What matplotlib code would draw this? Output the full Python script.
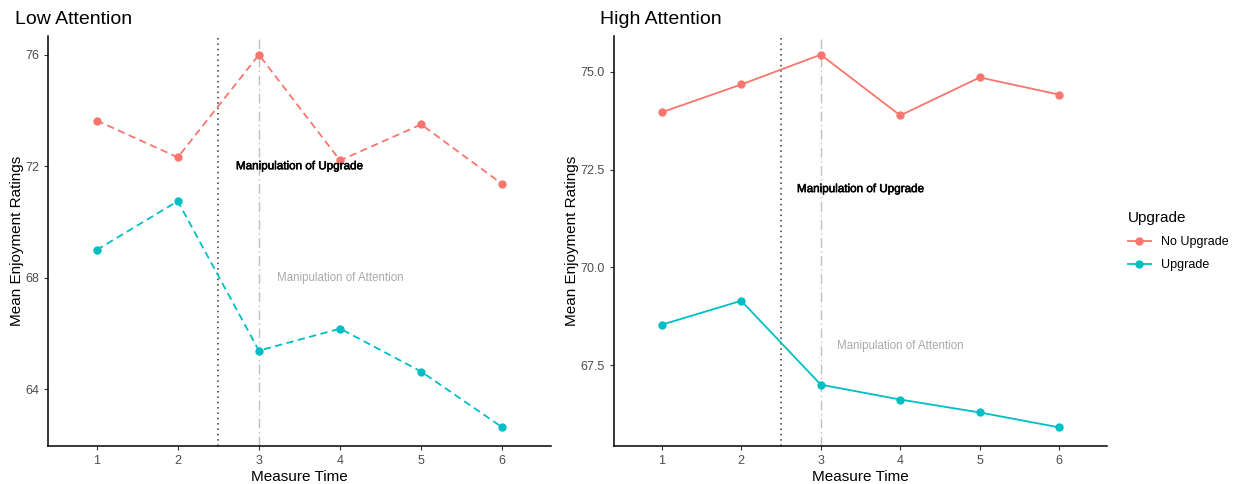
import matplotlib.pyplot as plt
import matplotlib.patheffects as pe

plt.rcParams['font.family'] = ['Liberation Sans', 'DejaVu Sans']

times = [1, 2, 3, 4, 5, 6]
groups = ['No Upgrade', 'Upgrade']
colors = ['#F8766D', '#00BFC4']

low_no_upgrade = [73.64, 72.32, 76.0, 72.21, 73.5, 71.36]
low_upgrade = [69.0, 70.75, 65.39, 66.18, 64.64, 62.64]
high_no_upgrade = [73.96, 74.67, 75.43, 73.88, 74.85, 74.41]
high_upgrade = [68.54, 69.15, 67.01, 66.63, 66.30, 65.92]

low_ticks = [64, 68, 72, 76]
high_ticks = [67.5, 70.0, 72.5, 75.0]

fig = plt.figure(figsize=(12.36, 4.84), dpi=100)
ax1 = fig.add_axes([0.0388, 0.0785, 0.407, 0.847])
ax2 = fig.add_axes([0.4968, 0.0785, 0.3988, 0.847])


def panel(ax, series, ls, ticks, fmt):
    for vals, c, g in zip(series, colors, groups):
        ax.plot(times, vals, color=c, ls=ls, lw=1.3, marker='o', ms=5,
                label=g, zorder=3)
    ax.axvline(2.5, color='#333333', ls=(0, (1, 2.5)), lw=1.1, zorder=1)
    ax.axvline(3, color='#C0C0C0', ls=(0, (7, 2.5, 1, 2.5)), lw=1.0, zorder=1)
    ax.text(3.5, 72, 'Manipulation of Upgrade', color='black', fontsize=8.4,
            ha='center', va='center',
            path_effects=[pe.withStroke(linewidth=0.4, foreground='black')])
    ax.text(4, 68, 'Manipulation of Attention', color='#AAAAAA', fontsize=8.3,
            ha='center', va='center')
    ax.set_xlim(0.4, 6.6)
    lo = min(min(s) for s in series)
    hi = max(max(s) for s in series)
    pad = (hi - lo) * 0.05
    ax.set_ylim(lo - pad, hi + pad)
    ax.set_xticks(times)
    ax.set_yticks(ticks)
    ax.set_yticklabels([fmt.format(t) for t in ticks])
    for s in ['top', 'right']:
        ax.spines[s].set_visible(False)
    for s in ['left', 'bottom']:
        ax.spines[s].set_linewidth(1.1)
    ax.tick_params(labelsize=9, colors='#4D4D4D', length=3)
    ax.tick_params(color='#333333')
    ax.set_xlabel('Measure Time', fontsize=11, labelpad=2)
    ax.set_ylabel('Mean Enjoyment Ratings', fontsize=11, labelpad=1)


panel(ax1, [low_no_upgrade, low_upgrade], (0, (4, 2.5)), low_ticks, '{:.0f}')
panel(ax2, [high_no_upgrade, high_upgrade], '-', high_ticks, '{:.1f}')

fig.text(15 / 1236, 1 - 19 / 484, 'Low Attention', fontsize=14, va='center')
fig.text(600 / 1236, 1 - 19 / 484, 'High Attention', fontsize=14, va='center')

leg = ax2.legend(title='Upgrade', loc='center left', bbox_to_anchor=(1.02, 0.50),
                 frameon=False, fontsize=9, title_fontsize=11,
                 handlelength=1.8, labelspacing=0.9)
leg._legend_box.align = 'left'

fig.savefig('out.png', dpi=100)
